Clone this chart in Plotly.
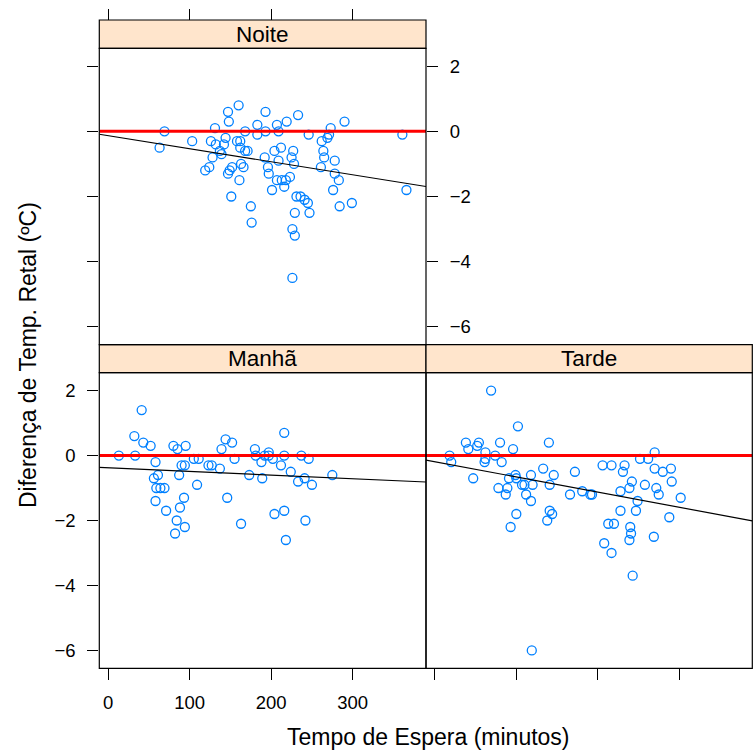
import numpy as np
import plotly.graph_objects as go

# Waiting time (minutes) and rectal temperature difference (ºC) by period
noite_x = [69, 63, 103, 126, 131, 132, 137, 139, 128, 142,
           144, 147, 148, 160, 158, 162, 162, 168, 168, 171,
           124, 119, 149, 147, 152, 163, 166, 161, 151, 175,
           176, 183, 183, 193, 193, 192, 196, 197, 201, 204,
           207, 209, 209, 212, 219, 207, 213, 216, 218, 223,
           227, 225, 228, 233, 231, 236, 241, 245, 247, 229,
           226, 229, 226, 246, 262, 264, 265, 261, 269, 271,
           273, 278, 278, 283, 276, 284, 299, 290, 361, 366]
noite_y = [0.0, -0.5, -0.3, -0.3, 0.1, -0.4, -0.6, -0.7, -0.8, -0.4,
           -0.2, 0.6, 0.3, 0.8, -0.3, -0.3, -0.5, 0.0, -0.6, -0.6,
           -1.1, -1.2, -1.2, -1.3, -1.1, -1.0, -1.1, -1.5, -2.0, -2.3,
           -2.8, 0.2, -0.1, 0.6, 0.0, -0.8, -1.1, -1.3, -1.8, -0.6,
           0.2, 0.0, -0.9, -0.5, 0.3, -1.5, -1.5, -1.7, -1.5, -1.4,
           -0.6, -0.8, -1.0, 0.5, -2.0, -2.0, -2.1, -2.2, -2.5, -2.5,
           -3.0, -3.2, -4.5, -0.1, -0.3, -0.6, -0.8, -1.1, -0.2, -0.1,
           0.1, -0.9, -1.3, -1.5, -1.8, -2.3, -2.2, 0.3, -0.1, -1.8]

manha_x = [13, 33, 32, 41, 43, 52, 58, 56, 61, 59,
           64, 69, 58, 71, 80, 85, 95, 90, 94, 87,
           93, 88, 84, 82, 94, 105, 111, 109, 123, 127,
           137, 139, 144, 152, 155, 146, 163, 180, 181, 188,
           192, 197, 197, 202, 173, 189, 204, 216, 218, 216,
           216, 212, 224, 233, 241, 237, 246, 250, 242, 275]
manha_y = [0.0, 0.0, 0.6, 1.4, 0.4, 0.3, -0.2, -0.7, -0.6, -1.0,
           -1.0, -1.0, -1.4, -1.7, 0.3, 0.2, 0.3, -0.3, -0.3, -0.6,
           -1.3, -1.6, -2.0, -2.4, -2.2, -0.1, -0.1, -0.9, -0.3, -0.3,
           -0.4, 0.2, 0.5, 0.4, -0.1, -1.3, -2.1, 0.2, 0.0, -0.2,
           0.0, 0.1, 0.0, -0.1, -0.6, -0.7, -1.8, -1.7, -2.6, 0.7,
           0.0, -0.3, -0.5, -0.8, -0.7, 0.0, -0.1, -0.9, -2.0, -0.6]

tarde_x = [18, 20, 38, 41, 52, 54, 62, 61, 62, 74,
           80, 82, 69, 47, 96, 102, 78, 89, 87, 91,
           99, 100, 107, 110, 118, 120, 112, 118, 100, 93,
           133, 140, 146, 141, 141, 144, 138, 172, 166, 181,
           191, 193, 119, 206, 217, 233, 231, 252, 262, 270,
           270, 280, 290, 242, 239, 228, 258, 272, 275, 291,
           302, 249, 247, 228, 213, 220, 240, 241, 239, 208,
           217, 269, 288, 243]
tarde_y = [0.0, -0.2, 0.4, 0.2, 0.3, 0.4, 0.1, -0.2, -0.1, 0.0,
           0.4, -0.2, 2.0, -0.7, 0.2, 0.9, -1.0, -1.0, -1.2, -0.7,
           -0.6, -0.7, -0.9, -0.9, -0.6, -0.9, -1.2, -1.4, -1.8, -2.2,
           -0.4, 0.4, -0.6, -0.9, -1.7, -1.8, -2.0, -0.5, -1.2, -1.1,
           -1.2, -1.2, -6.0, -0.3, -0.3, -0.3, -0.5, -0.1, -0.1, 0.1,
           -0.4, -0.5, -0.4, -0.8, -1.0, -1.1, -0.9, -1.0, -1.2, -0.8,
           -1.3, -1.4, -1.7, -1.7, -2.1, -2.1, -2.2, -2.4, -2.6, -2.7,
           -3.0, -2.5, -1.9, -3.7]

x_ticks = [0, 100, 200, 300]
y_ticks = [-6, -4, -2, 0, 2]
x_range = [-11, 390]
y_range = [-6.55, 2.55]

W, H = 753, 750
FONT = "Liberation Sans, Arial, Helvetica, sans-serif"
POINT_COL = "#0080FF"
STRIP_COL = "#FFE5CC"


def px_x(p):
    return p / W


def px_y(p):
    return 1 - p / H


# panel geometry (pixels)
left_col = (99.3, 426.0)
right_col = (426.0, 752.3)
top_strip = (20.0, 48.3)
top_panel = (48.3, 344.7)
bot_strip = (344.7, 372.7)
bot_panel = (372.7, 668.3)

dom_left = [px_x(left_col[0]), px_x(left_col[1])]
dom_right = [px_x(right_col[0]), px_x(right_col[1])]
dom_top = [px_y(top_panel[1]), px_y(top_panel[0])]
dom_bot = [px_y(bot_panel[1]), px_y(bot_panel[0])]

fig = go.Figure()

panels = [
    ("Manhã", manha_x, manha_y, "x", "y"),
    ("Tarde", tarde_x, tarde_y, "x2", "y2"),
    ("Noite", noite_x, noite_y, "x3", "y3"),
]

for name, xs, ys, xa, ya in panels:
    fig.add_trace(go.Scatter(
        x=xs, y=ys, mode="markers", xaxis=xa, yaxis=ya, showlegend=False,
        marker=dict(symbol="circle-open", size=9, color=POINT_COL,
                    line=dict(width=1.3, color=POINT_COL)),
        hoverinfo="skip"))
    # reference line at zero
    fig.add_trace(go.Scatter(
        x=x_range, y=[0, 0], mode="lines", xaxis=xa, yaxis=ya,
        showlegend=False, line=dict(color="#FF0000", width=3),
        hoverinfo="skip"))
    # least-squares fit
    slope, intercept = np.polyfit(np.array(xs, float), np.array(ys, float), 1)
    xf = np.array(x_range, float)
    fig.add_trace(go.Scatter(
        x=xf, y=intercept + slope * xf, mode="lines", xaxis=xa, yaxis=ya,
        showlegend=False, line=dict(color="black", width=1.2),
        hoverinfo="skip"))

# helper traces so the extra tick-only axes are drawn
fig.add_trace(go.Scatter(x=[], y=[], xaxis="x4", yaxis="y3", showlegend=False))
fig.add_trace(go.Scatter(x=[], y=[], xaxis="x3", yaxis="y4", showlegend=False))

tick_font = dict(family=FONT, size=18.5, color="black")
common = dict(showgrid=False, zeroline=False, showline=False,
              ticklen=11, tickwidth=1.3, tickcolor="black",
              tickfont=tick_font, fixedrange=True)

fig.update_layout(
    width=W, height=H, margin=dict(l=0, r=0, t=0, b=0),
    paper_bgcolor="white", plot_bgcolor="white",
    font=dict(family=FONT, color="black"),
    xaxis=dict(domain=dom_left, anchor="y", range=x_range, tickvals=x_ticks,
               ticks="outside", ticklabelstandoff=6, **common),
    yaxis=dict(domain=dom_bot, anchor="x", range=y_range, tickvals=y_ticks,
               ticks="outside", ticklabelstandoff=8, **common),
    xaxis2=dict(domain=dom_right, anchor="y2", range=x_range, tickvals=x_ticks,
                ticks="outside", showticklabels=False, **common),
    yaxis2=dict(domain=dom_bot, anchor="x2", range=y_range, tickvals=y_ticks,
                ticks="", showticklabels=False, **common),
    xaxis3=dict(domain=dom_left, anchor="y3", range=x_range, tickvals=x_ticks,
                ticks="", showticklabels=False, **common),
    yaxis3=dict(domain=dom_top, anchor="x3", range=y_range, tickvals=y_ticks,
                ticks="outside", showticklabels=False, side="left", **common),
    xaxis4=dict(overlaying="x3", anchor="free", position=px_y(top_strip[0]),
                side="top", range=x_range, tickvals=x_ticks, ticks="outside",
                showticklabels=False, **common),
    yaxis4=dict(overlaying="y3", anchor="x3", side="right", range=y_range,
                tickvals=y_ticks, ticks="outside", ticklabelstandoff=8,
                **common),
)

shapes = []
annotations = []
strips = [
    ("Noite", left_col, top_strip),
    ("Manhã", left_col, bot_strip),
    ("Tarde", right_col, bot_strip),
]
for label, (x0, x1), (y0, y1) in strips:
    shapes.append(dict(type="rect", xref="paper", yref="paper",
                       x0=px_x(x0), x1=px_x(x1), y0=px_y(y1), y1=px_y(y0),
                       fillcolor=STRIP_COL, line=dict(color="black", width=1.2),
                       layer="above"))
    annotations.append(dict(text=label, xref="paper", yref="paper",
                            x=px_x((x0 + x1) / 2), y=px_y((y0 + y1) / 2),
                            xanchor="center", yanchor="middle", showarrow=False,
                            font=dict(family=FONT, size=22.5, color="black")))

for (x0, x1), (y0, y1) in [(left_col, top_panel), (left_col, bot_panel),
                           (right_col, bot_panel)]:
    shapes.append(dict(type="rect", xref="paper", yref="paper",
                       x0=px_x(x0), x1=px_x(x1), y0=px_y(y1), y1=px_y(y0),
                       line=dict(color="black", width=1.2), layer="above"))

annotations.append(dict(text="Tempo de Espera (minutos)", xref="paper",
                        yref="paper", x=px_x(428), y=px_y(737),
                        xanchor="center", yanchor="middle", showarrow=False,
                        font=dict(family=FONT, size=23, color="black")))
annotations.append(dict(text="Diferença de Temp. Retal (ºC)", xref="paper",
                        yref="paper", x=px_x(28), y=px_y(355), textangle=-90,
                        xanchor="center", yanchor="middle", showarrow=False,
                        font=dict(family=FONT, size=23, color="black")))

fig.update_layout(shapes=shapes, annotations=annotations)

fig.write_html("out.html")
